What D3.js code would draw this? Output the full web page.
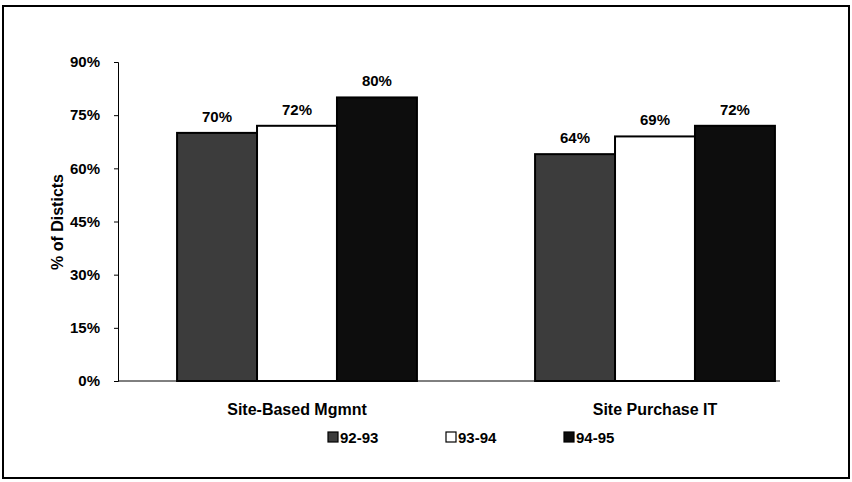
<!DOCTYPE html>
<html>
<head>
<meta charset="utf-8">
<script src="https://cdn.jsdelivr.net/npm/d3@7"></script>
<style>
  body { margin: 0; background: #fff; }
  text { font-family: "Liberation Sans", Arial, sans-serif; font-weight: bold; fill: #000; }
</style>
</head>
<body>
<div id="chart"></div>
<script>
(function() {

// chart values
var categories = ['Site-Based Mgmnt', 'Site Purchase IT'];
var years = ['92-93', '93-94', '94-95'];
var values9293 = [70, 64];
var values9394 = [72, 69];
var values9495 = [80, 72];
var yTicks = [0, 15, 30, 45, 60, 75, 90];

var fills = {'92-93': '#3c3c3c', '93-94': '#ffffff', '94-95': '#0d0d0d'};

var w = 852, h = 482;

var svg = d3.select('#chart')
    .append('svg')
    .attr('width', w)
    .attr('height', h);

// outer frame
svg.append('rect')
    .attr('x', 3).attr('y', 6)
    .attr('width', 846).attr('height', 472)
    .attr('fill', 'none')
    .attr('stroke', '#000')
    .attr('stroke-width', 2);

// scales
var y = d3.scaleLinear().domain([0, 90]).range([381, 62]);

var x0 = d3.scaleBand()
    .domain(categories)
    .range([118, 834])
    .paddingInner(0.33)
    .paddingOuter(0.165);

var x1 = d3.scaleBand()
    .domain(years)
    .range([0, x0.bandwidth()])
    .padding(0);

var rows = categories.map(function(c, i) {
  return {cat: c, vals: [
    {year: '92-93', v: values9293[i]},
    {year: '93-94', v: values9394[i]},
    {year: '94-95', v: values9495[i]}
  ]};
});

// y axis
var yAxis = svg.append('g')
    .attr('transform', 'translate(118,0)')
    .call(d3.axisLeft(y)
      .tickValues(yTicks)
      .tickSize(4)
      .tickFormat(function(d) { return d + '%'; }));
yAxis.select('.domain').attr('stroke', '#000').attr('stroke-width', 1);
yAxis.selectAll('.tick line').attr('stroke', '#000');
yAxis.selectAll('.tick text')
    .attr('x', -18)
    .style('font-size', '15px')
    .style('font-family', '"Liberation Sans", Arial, sans-serif')
    .style('font-weight', 'bold');

// y axis title
svg.append('text')
    .attr('transform', 'translate(63,222) rotate(-90)')
    .style('text-anchor', 'middle')
    .style('font-size', '16px')
    .text('% of Disticts');

// bars
var groups = svg.selectAll('.grp')
    .data(rows)
    .enter().append('g')
    .attr('class', 'grp')
    .attr('transform', function(d) { return 'translate(' + x0(d.cat) + ',0)'; });

groups.selectAll('rect')
    .data(function(d) { return d.vals; })
    .enter().append('rect')
    .attr('x', function(d) { return x1(d.year); })
    .attr('y', function(d) { return y(d.v); })
    .attr('width', x1.bandwidth())
    .attr('height', function(d) { return y(0) - y(d.v); })
    .attr('fill', function(d) { return fills[d.year]; })
    .attr('stroke', '#000')
    .attr('stroke-width', 2);

groups.selectAll('.lbl')
    .data(function(d) { return d.vals; })
    .enter().append('text')
    .attr('class', 'lbl')
    .attr('x', function(d) { return x1(d.year) + x1.bandwidth() / 2; })
    .attr('y', function(d) { return y(d.v) - 11; })
    .style('text-anchor', 'middle')
    .style('font-size', '15px')
    .text(function(d) { return d.v + '%'; });

// x baseline
svg.append('line')
    .attr('x1', 118).attr('x2', 780)
    .attr('y1', y(0)).attr('y2', y(0))
    .attr('stroke', '#000')
    .attr('stroke-width', 1);

// category labels
svg.selectAll('.cat')
    .data(categories)
    .enter().append('text')
    .attr('class', 'cat')
    .attr('x', function(d) { return x0(d) + x0.bandwidth() / 2; })
    .attr('y', 415)
    .style('text-anchor', 'middle')
    .style('font-size', '16px')
    .text(function(d) { return d; });

// legend
var legendX = [328, 446, 564];
var legend = svg.selectAll('.leg')
    .data(years)
    .enter().append('g')
    .attr('class', 'leg')
    .attr('transform', function(d, i) { return 'translate(' + legendX[i] + ',432)'; });

legend.append('rect')
    .attr('width', 10).attr('height', 10)
    .attr('fill', function(d) { return fills[d]; })
    .attr('stroke', '#000')
    .attr('stroke-width', 1.2);

legend.append('text')
    .attr('x', 12)
    .attr('y', 11)
    .style('font-size', '15px')
    .text(function(d) { return d; });

})();
</script>
</body>
</html>
